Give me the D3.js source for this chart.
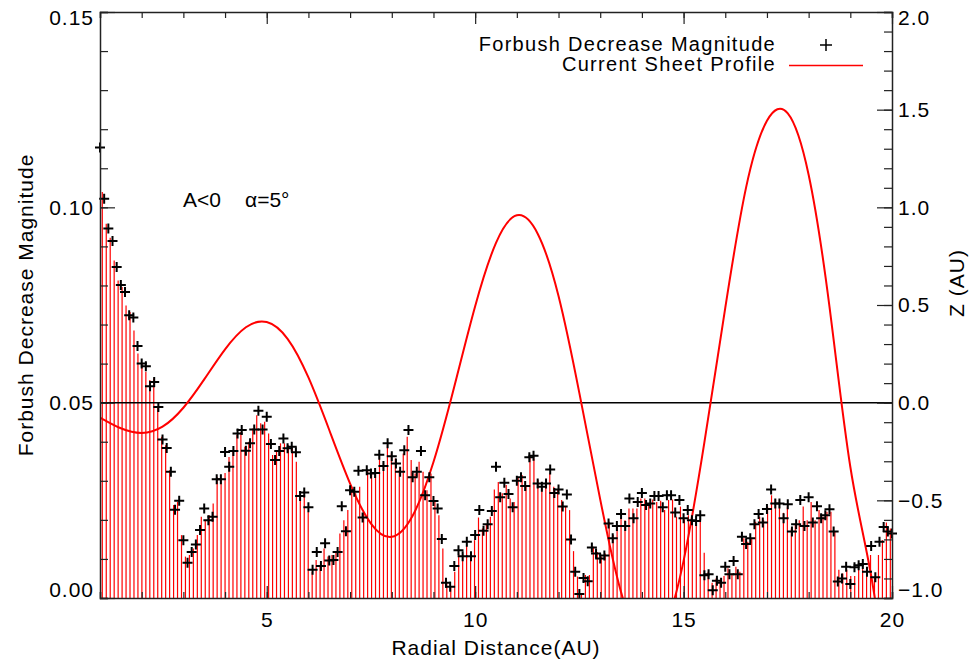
<!DOCTYPE html>
<html>
<head>
<meta charset="utf-8">
<script src="https://cdn.jsdelivr.net/npm/d3@7"></script>
<style>
  body { margin: 0; background: #fff; }
  svg text { font-family: "Liberation Sans", Arial, Helvetica, sans-serif; fill: #000; }
</style>
</head>
<body>
<svg id="chart"></svg>
<script>
// Forbush decrease magnitude (+ markers), one every 0.1 AU from 1.0 AU
const plusStartAU = 1.0;
const plusStepAU = 0.1;
const fdMagnitude = [
  0.1153, 0.1022, 0.0946, 0.0914, 0.0847, 0.0801, 0.0783, 0.0724, 0.0718, 0.0645,
  0.0600, 0.0593, 0.0542, 0.0553, 0.0489, 0.0406, 0.0384, 0.0323, 0.0226, 0.0249,
  0.0148, 0.0090, 0.0118, 0.0137, 0.0174, 0.0229, 0.0199, 0.0208, 0.0304, 0.0304,
  0.0374, 0.0336, 0.0376, 0.0421, 0.0430, 0.0377, 0.0396, 0.0431, 0.0479, 0.0431,
  0.0464, 0.0394, 0.0353, 0.0376, 0.0408, 0.0383, 0.0387, 0.0373, 0.0261, 0.0270,
  0.0232, 0.0072, 0.0118, 0.0082, 0.0140, 0.0096, 0.0097, 0.0118, 0.0235, 0.0171,
  0.0276, 0.0272, 0.0326, 0.0206, 0.0327, 0.0319, 0.0320, 0.0367, 0.0338, 0.0396,
  0.0363, 0.0344, 0.0323, 0.0378, 0.0430, 0.0309, 0.0323, 0.0376, 0.0263, 0.0309,
  0.0248, 0.0229, 0.0151, 0.0039, 0.0029, 0.0082, 0.0122, 0.0107, 0.0144, 0.0107,
  0.0161, 0.0225, 0.0172, 0.0189, 0.0223, 0.0336, 0.0258, 0.0295, 0.0266, 0.0232,
  0.0300, 0.0309, 0.0287, 0.0360, 0.0364, 0.0293, 0.0285, 0.0293, 0.0329, 0.0269,
  0.0278, 0.0234, 0.0265, 0.0150, 0.0067, 0.0010, 0.0051, 0.0043, 0.0129, 0.0114,
  0.0101, 0.0109, 0.0191, 0.0153, 0.0184, 0.0215, 0.0184, 0.0255, 0.0204, 0.0246,
  0.0269, 0.0238, 0.0242, 0.0261, 0.0261, 0.0232, 0.0263, 0.0263, 0.0219, 0.0251,
  0.0204, 0.0225, 0.0199, 0.0197, 0.0212, 0.0058, 0.0061, 0.0020, 0.0044, 0.0039,
  0.0080, 0.0061, 0.0095, 0.0061, 0.0157, 0.0138, 0.0153, 0.0189, 0.0215, 0.0193,
  0.0228, 0.0278, 0.0242, 0.0242, 0.0204, 0.0240, 0.0170, 0.0189, 0.0251, 0.0184,
  0.0258, 0.0193, 0.0235, 0.0204, 0.0212, 0.0227, 0.0170, 0.0042, 0.0050, 0.0080,
  0.0036, 0.0079, 0.0084, 0.0087, 0.0067, 0.0133, 0.0053, 0.0144, 0.0182, 0.0170,
  0.0165
];

// red vertical bars, one every 0.095 AU from 1.055 AU
const barStartAU = 1.055;
const barStepAU = 0.095;
const fdBars = [
  0.1039, 0.0958, 0.0922, 0.0864, 0.0813, 0.0796, 0.0749, 0.0732, 0.0685, 0.0626,
  0.0600, 0.0579, 0.0558, 0.0562, 0.0489, 0.0413, 0.0391, 0.0327, 0.0238, 0.0246,
  0.0161, 0.0106, 0.0110, 0.0127, 0.0161, 0.0208, 0.0199, 0.0212, 0.0242, 0.0309,
  0.0306, 0.0320, 0.0361, 0.0378, 0.0417, 0.0425, 0.0387, 0.0400, 0.0434, 0.0468,
  0.0447, 0.0451, 0.0421, 0.0366, 0.0374, 0.0396, 0.0396, 0.0391, 0.0383, 0.0349,
  0.0259, 0.0263, 0.0221, 0.0067, 0.0097, 0.0084, 0.0127, 0.0106, 0.0110, 0.0118,
  0.0165, 0.0199, 0.0225, 0.0272, 0.0268, 0.0285, 0.0217, 0.0327, 0.0320, 0.0323,
  0.0363, 0.0346, 0.0391, 0.0370, 0.0357, 0.0327, 0.0370, 0.0413, 0.0353, 0.0319,
  0.0349, 0.0323, 0.0276, 0.0319, 0.0246, 0.0212, 0.0127, 0.0040, 0.0026, 0.0067,
  0.0114, 0.0114, 0.0136, 0.0114, 0.0148, 0.0206, 0.0178, 0.0187, 0.0208, 0.0278,
  0.0297, 0.0268, 0.0289, 0.0255, 0.0246, 0.0310, 0.0315, 0.0289, 0.0366, 0.0357,
  0.0302, 0.0281, 0.0289, 0.0319, 0.0285, 0.0278, 0.0251, 0.0234, 0.0225, 0.0120,
  0.0055, 0.0008, 0.0059, 0.0059, 0.0131, 0.0118, 0.0106, 0.0114, 0.0195, 0.0161,
  0.0187, 0.0204, 0.0199, 0.0229, 0.0229, 0.0229, 0.0255, 0.0255, 0.0238, 0.0252,
  0.0246, 0.0249, 0.0225, 0.0251, 0.0252, 0.0208, 0.0234, 0.0201, 0.0212, 0.0204,
  0.0199, 0.0208, 0.0116, 0.0067, 0.0039, 0.0050, 0.0046, 0.0056, 0.0076, 0.0063,
  0.0080, 0.0067, 0.0153, 0.0144, 0.0153, 0.0195, 0.0208, 0.0199, 0.0234, 0.0263,
  0.0252, 0.0251, 0.0218, 0.0234, 0.0178, 0.0191, 0.0199, 0.0234, 0.0199, 0.0246,
  0.0199, 0.0225, 0.0208, 0.0221, 0.0221, 0.0170, 0.0072, 0.0063, 0.0072, 0.0056,
  0.0056, 0.0072, 0.0080, 0.0067, 0.0110, 0.0054, 0.0110, 0.0148, 0.0193, 0.0178
];

// current sheet profile Z (AU) against radial distance
const sheetR = [1.0, 1.5, 2.0, 2.5, 3.0, 3.5, 4.0, 4.5, 5.0, 5.5, 6.0, 6.5, 7.0, 7.5,
  8.0, 8.5, 9.0, 9.5, 10.0, 10.5, 11.0, 11.5, 12.0, 12.5, 13.0, 13.5, 14.0, 14.5,
  15.0, 15.5, 16.0, 16.5, 17.0, 17.5, 18.0, 18.5, 19.0, 19.5, 20.0];
const sheetZ = [-0.076, -0.131, -0.155, -0.123, -0.026, 0.119, 0.273, 0.386, 0.413,
  0.327, 0.129, -0.140, -0.414, -0.619, -0.687, -0.579, -0.304, 0.083, 0.494, 0.818,
  0.959, 0.865, 0.546, 0.049, -0.495, -0.970, -1.211, -1.171, -0.810, -0.202, 0.485,
  1.102, 1.443, 1.481, 1.167, 0.492, -0.328, -0.886, -1.628];

const xTicks = [5, 10, 15, 20];
const leftTicks = [0, 0.05, 0.10, 0.15];
const rightTicks = [-1, -0.5, 0, 0.5, 1, 1.5, 2];

const margin = { top: 12, right: 80, bottom: 62, left: 100 };
const width = 972 - margin.left - margin.right;
const height = 660 - margin.top - margin.bottom;

const svg = d3.select("#chart").attr("width", 972).attr("height", 660);
const g = svg.append("g").attr("transform", "translate(" + margin.left + "," + margin.top + ")");

const x = d3.scaleLinear().domain([1, 20]).range([0, width]);
const y = d3.scaleLinear().domain([0, 0.15]).range([height, 0]);
const yz = d3.scaleLinear().domain([-1, 2]).range([height, 0]);

g.append("clipPath").attr("id", "plotClip")
  .append("rect").attr("width", width).attr("height", height);

const plot = g.append("g").attr("clip-path", "url(#plotClip)");

// bars
plot.selectAll(".bar")
  .data(fdBars)
  .enter()
  .append("line")
  .attr("class", "bar")
  .attr("x1", (d, i) => x(barStartAU + i * barStepAU))
  .attr("x2", (d, i) => x(barStartAU + i * barStepAU))
  .attr("y1", y(0))
  .attr("y2", (d) => y(d))
  .attr("stroke", "#ff0000")
  .attr("stroke-width", 1.2);

// zero line of the current sheet
plot.append("line")
  .attr("x1", 0).attr("x2", width)
  .attr("y1", yz(0)).attr("y2", yz(0))
  .attr("stroke", "#000").attr("stroke-width", 1.5);

// current sheet profile
const sheet = sheetR.map((r, i) => [r, sheetZ[i]]);
plot.append("path")
  .datum(sheet)
  .attr("fill", "none")
  .attr("stroke", "#ff0000")
  .attr("stroke-width", 2)
  .attr("d", d3.line().x((d) => x(d[0])).y((d) => yz(d[1])).curve(d3.curveNatural));

// plus markers (not clipped: the first one sits on the left axis)
g.selectAll(".plus")
  .data(fdMagnitude)
  .enter()
  .append("path")
  .attr("class", "plus")
  .attr("transform", (d, i) => "translate(" + x(plusStartAU + i * plusStepAU) + "," + y(d) + ")")
  .attr("d", "M-5,0H5M0,-5V5")
  .attr("stroke", "#000")
  .attr("stroke-width", 2);

// axes, ticks on the inside like the original
function minor(lo, hi, step) {
  return d3.range(Math.round((hi - lo) / step) + 1).map((i) => lo + i * step);
}

const axisStyle = (sel) => {
  sel.select(".domain").attr("stroke", "#222").attr("stroke-width", 1.5);
  sel.selectAll(".tick line").attr("stroke", "#222").attr("stroke-width", 1.2);
  sel.selectAll("text").style("font-size", "21px").style("letter-spacing", "1px");
};

// bottom
g.append("g").attr("transform", "translate(0," + height + ")")
  .call(d3.axisBottom(x).tickValues(minor(1, 20, 1)).tickSize(-6).tickFormat(""))
  .call(axisStyle);
g.append("g").attr("transform", "translate(0," + height + ")")
  .call(d3.axisBottom(x).tickValues(xTicks).tickSizeInner(-12).tickSizeOuter(0).tickPadding(14))
  .call(axisStyle)
  .call((s) => s.select(".domain").remove());

// top
g.append("g")
  .call(d3.axisTop(x).tickValues(minor(1, 20, 1)).tickSize(-6).tickFormat(""))
  .call(axisStyle);
g.append("g")
  .call(d3.axisTop(x).tickValues(xTicks).tickSizeInner(-12).tickSizeOuter(0).tickFormat(""))
  .call(axisStyle)
  .call((s) => s.select(".domain").remove());

// left
g.append("g")
  .call(d3.axisLeft(y).tickValues(minor(0, 0.15, 0.01)).tickSize(-8).tickFormat(""))
  .call(axisStyle);
g.append("g")
  .call(d3.axisLeft(y).tickValues(leftTicks).tickSizeInner(-15).tickSizeOuter(0).tickPadding(6).tickFormat(d3.format(".2f")))
  .call(axisStyle)
  .call((s) => s.select(".domain").remove())
  .call((s) => s.selectAll("text").attr("y", (d) => (d === 0 ? -8 : d === 0.15 ? 6 : 0)));

// right
g.append("g").attr("transform", "translate(" + width + ",0)")
  .call(d3.axisRight(yz).tickValues(minor(-1, 2, 0.1)).tickSize(-8).tickFormat(""))
  .call(axisStyle);
g.append("g").attr("transform", "translate(" + width + ",0)")
  .call(d3.axisRight(yz).tickValues(rightTicks).tickSizeInner(-15).tickSizeOuter(0).tickPadding(6).tickFormat(d3.format(".1f")))
  .call(axisStyle)
  .call((s) => s.select(".domain").remove())
  .call((s) => s.selectAll("text").attr("y", (d) => (d === -1 ? -8 : d === 2 ? 6 : 0)));

// axis titles
svg.append("text")
  .attr("x", margin.left + width / 2).attr("y", 655)
  .attr("text-anchor", "middle")
  .style("font-size", "21px").style("letter-spacing", "1px")
  .text("Radial Distance(AU)");

svg.append("text")
  .attr("transform", "translate(33,305) rotate(-90)")
  .attr("text-anchor", "middle")
  .style("font-size", "21px").style("letter-spacing", "1px")
  .text("Forbush Decrease Magnitude");

svg.append("text")
  .attr("transform", "translate(964,283) rotate(-90)")
  .attr("text-anchor", "middle")
  .style("font-size", "21px").style("letter-spacing", "1px")
  .text("Z (AU)");

// annotation
svg.append("text").attr("x", 183).attr("y", 207)
  .style("font-size", "21px").text("A<0");
svg.append("text").attr("x", 245).attr("y", 207)
  .style("font-size", "21px").text("α=5°");

// legend
const legend = svg.append("g");
legend.append("text").attr("x", 776).attr("y", 51)
  .attr("text-anchor", "end")
  .style("font-size", "20px").style("letter-spacing", "1.3px")
  .text("Forbush Decrease Magnitude");
legend.append("path")
  .attr("transform", "translate(826,45)")
  .attr("d", "M-6,0H6M0,-6V6")
  .attr("stroke", "#000").attr("stroke-width", 1.5);
legend.append("text").attr("x", 776).attr("y", 71)
  .attr("text-anchor", "end")
  .style("font-size", "20px").style("letter-spacing", "1.3px")
  .text("Current Sheet Profile");
legend.append("line")
  .attr("x1", 789).attr("x2", 863).attr("y1", 65.5).attr("y2", 65.5)
  .attr("stroke", "#ff0000").attr("stroke-width", 1.5);
</script>
</body>
</html>
